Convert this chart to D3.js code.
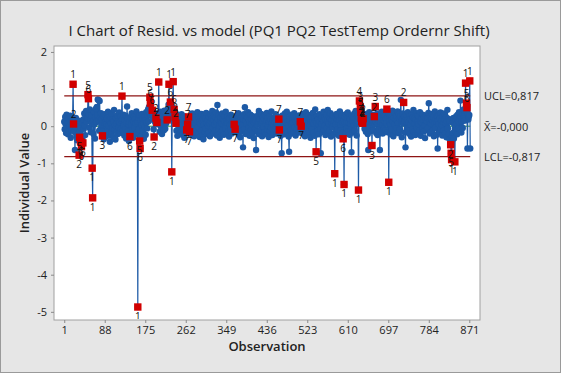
<!DOCTYPE html>
<html>
<head>
<meta charset="utf-8">
<script src="https://cdn.jsdelivr.net/npm/d3@7"></script>
<style>
  body { margin: 0; background: #e6e6e6; }
  svg { display: block; font-family: "Open Sans", "Noto Sans", sans-serif; }
</style>
</head>
<body>
<svg id="chart" width="561" height="373"></svg>
<script>
// I chart of residuals

var residuals = [
  0.12, -0.08, 0.25, 0.05, -0.18, 0.31, -0.05, 0.14, -0.22, 0.08,
  0.21, -0.12, 0.02, 0.28, -0.31, -0.09, 0.17, 0.04, 0.24, 1.13,
  0.06, -0.15, 0.19, -0.64, -0.02, 0.22, -0.26, 0.11, -0.38, 0.07,
  -0.21, 0.15, -0.78, -0.30, -0.12, -0.42, -0.05, -0.55, 0.09, -0.33,
  -0.45, 0.18, -0.07, 0.34, 0.02, -0.24, 0.27, 0.41, 0.12, 0.36,
  0.22, 0.85, 0.74, 0.31, -0.04, 0.45, 0.18, -0.16, 0.29, 0.08,
  -1.13, -1.93, 0.14, -0.21, 0.38, 0.05, -0.33, 0.24, 0.47, 0.11,
  0.52, 0.29, 0.72, 0.16, 0.70, -0.12, 0.68, 0.23, -0.08, 0.35,
  0.04, 0.19, -0.26, -0.14, 0.27, -0.35, 0.09, 0.32, -0.19, 0.13,
  -0.28, 0.06, 0.21, -0.11, 0.39, 0.01, -0.24, 0.16, -0.42, 0.25,
  0.08, -0.17, 0.33, -0.05, 0.18, -0.29, 0.12, 0.44, -0.09, 0.03,
  -0.36, 0.22, 0.07, -0.15, 0.29, -0.21, 0.14, -0.03, 0.37, 0.10,
  -0.18, 0.26, -0.07, 0.15, 0.81, 0.20, -0.12, 0.31, 0.02, -0.25,
  0.17, -0.08, 0.28, -0.33, 0.09, 0.53, -0.14, 0.21, 0.05, -0.40,
  0.11, -0.28, 0.24, -0.19, 0.06, 0.35, -0.10, 0.18, -0.31, 0.13,
  0.27, -0.05, 0.19, -0.22, 0.08, 0.40, -0.16, 0.12, -4.87, 0.23,
  -0.09, 0.30, -0.40, -0.60, 0.15, -0.27, 0.04, 0.33, -0.13, 0.20,
  0.07, -0.34, 0.25, -0.02, 0.16, -0.23, 0.38, 0.10, -0.06, 0.29,
  0.45, 0.13, 0.52, 0.34, 0.78, 0.62, 0.28, 0.47, 0.36, 0.43,
  0.18, 0.31, -0.08, -0.29, 0.14, 0.26, 0.09, 0.22, 0.17, 0.10,
  0.35, 0.05, 0.28, 1.19, 0.12, -0.15, 0.24, 0.39, -0.02, 0.18,
  -0.21, 0.27, 0.06, 0.33, -0.11, 0.42, 0.15, -0.07, 0.29, 0.08,
  0.36, 0.17, 0.45, 0.24, 0.58, 1.13, 0.31, 0.48, 0.65, 0.20,
  0.38, -1.23, 0.27, 0.52, 1.20, 0.33, 0.45, 0.14, 0.25, 0.36,
  0.08, -0.12, 0.21, -0.26, 0.13, 0.30, -0.05, 0.19, -0.18, 0.07,
  0.24, -0.14, 0.32, 0.02, -0.23, 0.16, -0.08, 0.27, -0.31, 0.11,
  0.05, -0.17, 0.14, -0.10, 0.20, 0.05, 0.12, 0.25, -0.06, -0.15,
  0.09, 0.18, -0.21, 0.26, -0.04, 0.34, -0.13, 0.19, 0.03, -0.27,
  0.22, 0.08, -0.16, 0.31, -0.09, 0.15, 0.38, -0.02, 0.24, -0.19,
  0.12, -0.29, 0.27, 0.06, -0.12, 0.33, 0.14, -0.24, 0.19, -0.35,
  0.04, 0.28, -0.15, 0.21, -0.06, 0.36, 0.10, -0.22, 0.17, 0.01,
  -0.18, 0.25, 0.08, -0.27, 0.32, 0.13, -0.09, 0.20, 0.41, -0.03,
  0.16, -0.20, 0.29, 0.05, -0.13, 0.24, 0.37, 0.11, -0.25, 0.57,
  0.19, -0.07, 0.30, 0.02, -0.31, 0.14, 0.23, -0.16, 0.08, 0.34,
  -0.11, 0.21, 0.06, -0.23, 0.27, 0.12, -0.05, 0.39, 0.15, -0.19,
  0.09, 0.26, -0.14, 0.18, -0.28, 0.22, 0.03, -0.09, 0.31, 0.07,
  -0.20, 0.13, 0.24, -0.06, 0.10, 0.05, 0.16, -0.08, 0.02, -0.12,
  0.18, 0.29, -0.17, 0.07, 0.35, -0.24, 0.14, 0.01, -0.30, 0.22,
  0.11, -0.13, 0.26, 0.04, -0.57, 0.19, 0.32, -0.08, 0.51, 0.15,
  -0.21, 0.28, 0.06, -0.15, 0.23, 0.38, -0.04, 0.17, -0.26, 0.10,
  0.31, -0.10, 0.20, 0.05, -0.19, 0.27, 0.13, -0.32, 0.08, 0.24,
  -0.07, 0.16, -0.64, 0.21, 0.03, -0.14, 0.29, 0.12, 0.41, -0.22,
  0.18, 0.06, -0.11, 0.33, 0.09, -0.27, 0.15, 0.25, -0.03, 0.19,
  -0.16, 0.30, 0.07, -0.21, 0.14, 0.36, -0.09, 0.22, 0.02, -0.29,
  0.12, 0.27, -0.13, 0.18, -0.05, 0.40, 0.09, -0.24, 0.16, 0.04,
  -0.18, 0.23, 0.11, -0.08, 0.32, 0.14, -0.20, 0.07, 0.26, -0.12,
  0.05, 0.19, -0.10, 0.13, 0.21, -0.26, 0.08, -0.73, 0.17, 0.29,
  -0.15, 0.24, 0.06, -0.22, 0.34, 0.11, -0.07, 0.20, 0.39, -0.18,
  0.13, 0.02, -0.28, -0.69, 0.16, 0.25, -0.11, 0.31, 0.07, -0.20,
  0.22, 0.09, -0.14, 0.28, 0.35, -0.04, 0.17, -0.25, 0.12, 0.26,
  -0.09, 0.19, 0.04, -0.17, 0.29, 0.10, -0.06, 0.12, 0.07, 0.00,
  0.21, -0.19, 0.33, 0.06, -0.12, 0.24, 0.15, -0.27, 0.18, 0.38,
  -0.05, 0.13, 0.27, -0.21, 0.08, 0.30, -0.14, 0.20, 0.03, -0.31,
  0.16, 0.25, -0.09, 0.11, 0.36, -0.18, 0.07, 0.22, -0.26, 0.45,
  0.14, -0.69, 0.09, 0.28, -0.13, 0.19, 0.05, -0.22, 0.32, 0.12,
  -0.07, -0.73, 0.21, 0.06, 0.27, -0.16, 0.15, 0.39, -0.10, 0.23,
  0.02, -0.24, 0.18, 0.31, -0.05, 0.13, 0.44, -0.19, 0.08, 0.26,
  -0.12, 0.20, 0.35, -0.28, 0.10, 0.16, -0.03, 0.29, 0.07, -0.21,
  0.14, -1.28, 0.24, 0.05, -0.15, 0.33, 0.19, -0.08, 0.27, 0.11,
  -0.26, 0.17, 0.40, 0.04, -0.11, 0.22, 0.30, -0.18, 0.09, -0.34,
  0.15, -1.57, 0.26, 0.08, -0.20, 0.32, 0.12, -0.06, 0.21, 0.37,
  -0.14, 0.10, 0.25, -0.23, 0.18, 0.06, -0.09, -0.70, 0.29, 0.13,
  -0.17, 0.24, 0.03, 0.34, -0.12, 0.19, 0.41, 0.08, -0.25, 0.27,
  0.14, 0.30, -1.72, 0.22, 0.68, 0.35, 0.52, 0.38, 0.22, 0.12,
  0.15, 0.08, 0.20, 0.26, 0.11, -0.07, 0.23, 0.32, -0.15, 0.18,
  0.06, 0.27, -0.21, -0.64, 0.14, 0.38, -0.04, 0.19, 0.25, -0.13,
  0.09, -0.52, 0.16, 0.31, -0.10, 0.22, 0.26, 0.05, 0.53, 0.12,
  -0.18, 0.28, 0.07, -0.24, 0.34, 0.15, -0.08, 0.21, -0.64, 0.11,
  0.25, -0.14, 0.39, 0.03, -0.20, 0.18, 0.30, -0.06, 0.13, 0.27,
  -0.11, 0.20, 0.08, 0.46, -0.16, 0.24, 0.35, -1.51, 0.14, 0.29,
  0.06, -0.22, 0.31, 0.17, -0.09, 0.42, 0.12, -0.27, 0.23, 0.05,
  0.36, -0.13, 0.19, 0.28, -0.05, 0.15, 0.40, 0.09, -0.19, 0.33,
  0.21, -0.08, 0.27, 0.71, 0.11, -0.30, 0.18, 0.34, 0.07, 0.64,
  0.25, 0.14, -0.17, -0.57, 0.22, 0.30, -0.06, 0.16, 0.38, -0.12,
  0.10, 0.27, -0.21, 0.19, 0.04, -0.28, 0.32, 0.13, -0.09, 0.24,
  0.44, -0.15, 0.08, 0.21, -0.24, 0.17, 0.35, -0.03, 0.12, 0.29,
  -0.19, 0.06, 0.26, -0.11, 0.38, 0.14, -0.26, 0.20, 0.09, -0.07,
  0.31, 0.18, -0.14, 0.24, 0.02, -0.32, 0.16, 0.28, -0.10, 0.13,
  0.22, -0.05, 0.36, 0.62, 0.11, -0.20, 0.27, 0.07, -0.16, 0.19,
  0.33, -0.12, 0.15, 0.25, -0.27, 0.09, 0.40, -0.04, 0.18, 0.12,
  -0.23, 0.28, -0.60, 0.14, 0.06, 0.31, -0.15, 0.21, 0.37, -0.08,
  0.16, 0.03, -0.25, 0.26, 0.12, -0.11, 0.34, 0.19, -0.19, 0.08,
  0.24, -0.30, 0.13, 0.44, -0.06, 0.20, -0.21, 0.15, -0.35, -0.42,
  -0.50, -0.73, -0.90, -0.28, 0.10, -0.18, 0.22, -0.33, 0.05, -0.96,
  0.17, -0.14, 0.27, 0.08, -0.22, 0.31, 0.14, -0.07, 0.38, 0.20,
  -0.10, 0.69, 0.25, -0.17, 0.12, 0.34, -0.05, 0.21, 0.45, 0.29,
  0.15, 0.36, 1.16, 0.40, 0.62, 0.50, -0.60, 0.33, 0.18, 0.26,
  0.30, 1.22, -0.60
];

// observations that fail a test, with the number of the test
var flaggedObs = [20, 21, 33, 34, 36, 38, 41, 52, 53, 61, 62, 83, 125, 142, 159,
  163, 164, 185, 186, 190, 194, 198, 200, 204, 222, 226, 229, 232, 235, 237, 239, 241,
  264, 266, 268, 270, 366, 368, 462, 463, 508, 510, 542,
  582, 600, 602, 633, 635, 637, 638, 639, 640, 641, 642, 643, 662, 667, 669, 694, 698,
  730, 831, 832, 833, 840, 863, 865, 866, 872];
var flaggedTest = [1, 2, 2, 5, 6, 6, 6, 5, 6, 1, 1, 3, 1, 6, 1,
  5, 6, 5, 6, 6, 2, 2, 2, 1, 2, 1, 6, 1, 1, 6, 2, 2,
  7, 7, 7, 7, 7, 7, 7, 7, 7, 7, 5,
  1, 6, 1, 1, 4, 3, 5, 4, 2, 2, 2, 2, 3, 2, 3, 6, 1,
  2, 2, 5, 1, 1, 1, 5, 6, 1];

var ucl = 0.817, centre = -0.000, lcl = -0.817;
var limitLabels = ["UCL=0,817", "X\u0304=-0,000", "LCL=-0,817"];

var xTicks = [1, 88, 175, 262, 349, 436, 523, 610, 697, 784, 871];
var yTicks = [2, 1, 0, -1, -2, -3, -4, -5];

var chartTitle = "I Chart of Resid. vs model (PQ1 PQ2 TestTemp Ordernr Shift)";

// ---------------------------------------------------------------------------

var width = 561,
    height = 373,
    plotLeft = 54,
    plotRight = 480,
    plotTop = 46,
    plotBottom = 320;

var blue = "#1d5aa6",
    red = "#d10000",
    limitRed = "#8e1414";

var svg = d3.select("#chart");

svg.append("rect")
    .attr("x", 0.5).attr("y", 0.5)
    .attr("width", width - 1).attr("height", height - 1)
    .attr("fill", "#e6e6e6")
    .attr("stroke", "#9a9a9a");

svg.append("rect")
    .attr("x", plotLeft).attr("y", plotTop)
    .attr("width", plotRight - plotLeft).attr("height", plotBottom - plotTop)
    .attr("fill", "#ffffff")
    .attr("stroke", "#a0a0a0");

var points = residuals.map(function(v, i) { return { obs: i + 1, value: v }; });

var xScale = d3.scaleLinear().domain([-21, 894]).range([plotLeft, plotRight]);
var yScale = d3.scaleLinear().domain([-5.22, 2.16]).range([plotBottom, plotTop]);

var xaxis = d3.axisBottom(xScale).tickValues(xTicks).tickSize(3).tickPadding(3);
var yaxis = d3.axisLeft(yScale).tickValues(yTicks).tickSize(3).tickPadding(4)
    .tickFormat(function(d) { return d < 0 ? "-" + Math.abs(d) : d; });

var gx = svg.append("g")
    .attr("transform", "translate(0," + plotBottom + ")")
    .call(xaxis);
var gy = svg.append("g")
    .attr("transform", "translate(" + plotLeft + ",0)")
    .call(yaxis);

[gx, gy].forEach(function(g) {
  g.select(".domain").remove();
  g.selectAll(".tick line").attr("stroke", "#8a8a8a");
  g.selectAll(".tick text")
      .attr("fill", "#222")
      .style("font-size", "11px")
      .style("font-family", "'Open Sans', sans-serif");
});

svg.append("clipPath").attr("id", "plot-clip")
    .append("rect")
    .attr("x", plotLeft + 1).attr("y", plotTop + 1)
    .attr("width", plotRight - plotLeft - 2).attr("height", plotBottom - plotTop - 2);

var plot = svg.append("g").attr("clip-path", "url(#plot-clip)");

var nObs = residuals.length;

// centre line sits under the points
plot.append("line")
    .attr("x1", xScale(1)).attr("x2", xScale(nObs))
    .attr("y1", yScale(centre)).attr("y2", yScale(centre))
    .attr("stroke", "#2b9a2b")
    .attr("stroke-width", 1);

var line = d3.line()
    .x(function(d) { return xScale(d.obs); })
    .y(function(d) { return yScale(d.value); });

plot.append("path")
    .datum(points)
    .attr("d", line)
    .attr("fill", "none")
    .attr("stroke", blue)
    .attr("stroke-width", 1.2);

plot.selectAll("circle.point")
    .data(points)
    .enter()
    .append("circle")
    .attr("class", "point")
    .attr("cx", function(d) { return xScale(d.obs); })
    .attr("cy", function(d) { return yScale(d.value); })
    .attr("r", 3.2)
    .attr("fill", blue);

[ucl, lcl].forEach(function(v) {
  plot.append("line")
      .attr("x1", xScale(1)).attr("x2", xScale(nObs))
      .attr("y1", yScale(v)).attr("y2", yScale(v))
      .attr("stroke", limitRed)
      .attr("stroke-width", 1.2);
});

var flagged = flaggedObs.map(function(o, i) {
  return { obs: o, value: residuals[o - 1], test: flaggedTest[i] };
});

plot.selectAll("rect.flag")
    .data(flagged)
    .enter()
    .append("rect")
    .attr("class", "flag")
    .attr("x", function(d) { return xScale(d.obs) - 3.7; })
    .attr("y", function(d) { return yScale(d.value) - 3.7; })
    .attr("width", 7.4)
    .attr("height", 7.4)
    .attr("fill", red);

plot.selectAll("text.flag-label")
    .data(flagged)
    .enter()
    .append("text")
    .attr("class", "flag-label")
    .attr("x", function(d) { return xScale(d.obs); })
    .attr("y", function(d) { return yScale(d.value) + (d.value > centre ? -6 : 13); })
    .attr("text-anchor", "middle")
    .style("font-size", "10px")
    .attr("fill", "#111")
    .text(function(d) { return d.test; });

// limit labels on the right
svg.selectAll("text.limit")
    .data([ucl, centre, lcl])
    .enter()
    .append("text")
    .attr("class", "limit")
    .attr("x", 484)
    .attr("y", function(d, i) { return yScale(d) + 4 + (i == 1 ? 1 : 0); })
    .style("font-size", "11px")
    .attr("fill", "#222")
    .text(function(d, i) { return limitLabels[i]; });

svg.append("text")
    .attr("x", 279)
    .attr("y", 36)
    .attr("text-anchor", "middle")
    .style("font-size", "15px")
    .attr("fill", "#222")
    .text(chartTitle);

svg.append("text")
    .attr("x", 267)
    .attr("y", 351)
    .attr("text-anchor", "middle")
    .style("font-size", "13px")
    .style("font-weight", "600")
    .attr("fill", "#222")
    .text("Observation");

svg.append("text")
    .attr("transform", "translate(29," + 183 + ") rotate(-90)")
    .attr("text-anchor", "middle")
    .style("font-size", "13px")
    .style("font-weight", "600")
    .attr("fill", "#222")
    .text("Individual Value");
</script>
</body>
</html>
